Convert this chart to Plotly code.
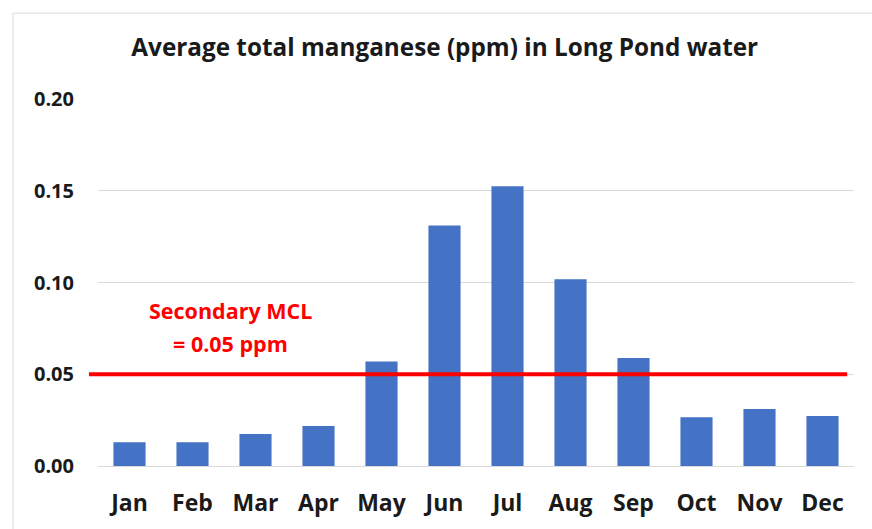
import plotly.graph_objects as go

months = ["Jan", "Feb", "Mar", "Apr", "May", "Jun", "Jul", "Aug", "Sep", "Oct", "Nov", "Dec"]
manganese = [0.013, 0.013, 0.0175, 0.0218, 0.057, 0.131, 0.1525, 0.1018, 0.0588, 0.0265, 0.031, 0.0272]
mcl = 0.05
y_ticks = [0.00, 0.05, 0.10, 0.15, 0.20]
y_tick_text = ["0.00", "0.05", "0.10", "0.15", "0.20"]

FONT = "Open Sans"
TXT = "#1a1a1a"
BORDER = "#D9D9D9"

fig = go.Figure()
fig.add_trace(go.Bar(x=months, y=manganese, marker=dict(color="#4472C4", line=dict(width=0)), width=0.51))

fig.add_shape(type="line", xref="paper", yref="y", x0=-0.012, x1=0.991, y0=mcl, y1=mcl,
              line=dict(color="#FF0000", width=4), layer="above")
# chart-area border (top and left edges visible in the reference)
fig.add_shape(type="line", xref="paper", yref="paper", x0=-0.1124, x1=1.2, y0=1.234, y1=1.234,
              line=dict(color=BORDER, width=1), layer="below")
fig.add_shape(type="line", xref="paper", yref="paper", x0=-0.1124, x1=-0.1124, y0=-0.5, y1=1.234,
              line=dict(color=BORDER, width=1), layer="below")

fig.add_annotation(xref="paper", yref="y", x=0.175, y=0.0848, xanchor="center", yanchor="middle",
                   text="<b>Secondary MCL</b>", showarrow=False,
                   font=dict(family=FONT, size=21.5, color="#FF0000"))
fig.add_annotation(xref="paper", yref="y", x=0.175, y=0.0668, xanchor="center", yanchor="middle",
                   text="<b>= 0.05 ppm</b>", showarrow=False,
                   font=dict(family=FONT, size=21.5, color="#FF0000"))

fig.update_layout(
    width=872, height=529,
    margin=dict(l=98, r=18, t=99, b=63),
    paper_bgcolor="white", plot_bgcolor="white",
    showlegend=False,
    title=dict(text="<b>Average total manganese (ppm) in Long Pond water</b>", x=0.51, xanchor="center",
               y=0.9105, yanchor="middle", font=dict(family=FONT, size=24.3, color=TXT)),
    font=dict(family=FONT, color=TXT),
    bargap=0.49,
)
fig.update_xaxes(showgrid=False, showline=True, linecolor=BORDER, linewidth=1,
                 tickfont=dict(family=FONT, size=23, color=TXT), ticklabelstandoff=16,
                 tickprefix="<b>", ticksuffix="</b>")
fig.update_yaxes(range=[0, 0.2], tickvals=y_ticks, ticktext=["<b>%s</b>" % t for t in y_tick_text],
                 showgrid=True, gridcolor=BORDER, gridwidth=1, zeroline=False,
                 tickfont=dict(family=FONT, size=20, color=TXT), ticklabelstandoff=23)

fig.write_html("out.html", config={"displayModeBar": False},
               post_script="document.body.style.margin='0';document.documentElement.style.overflow='hidden';document.body.style.overflow='hidden';")
